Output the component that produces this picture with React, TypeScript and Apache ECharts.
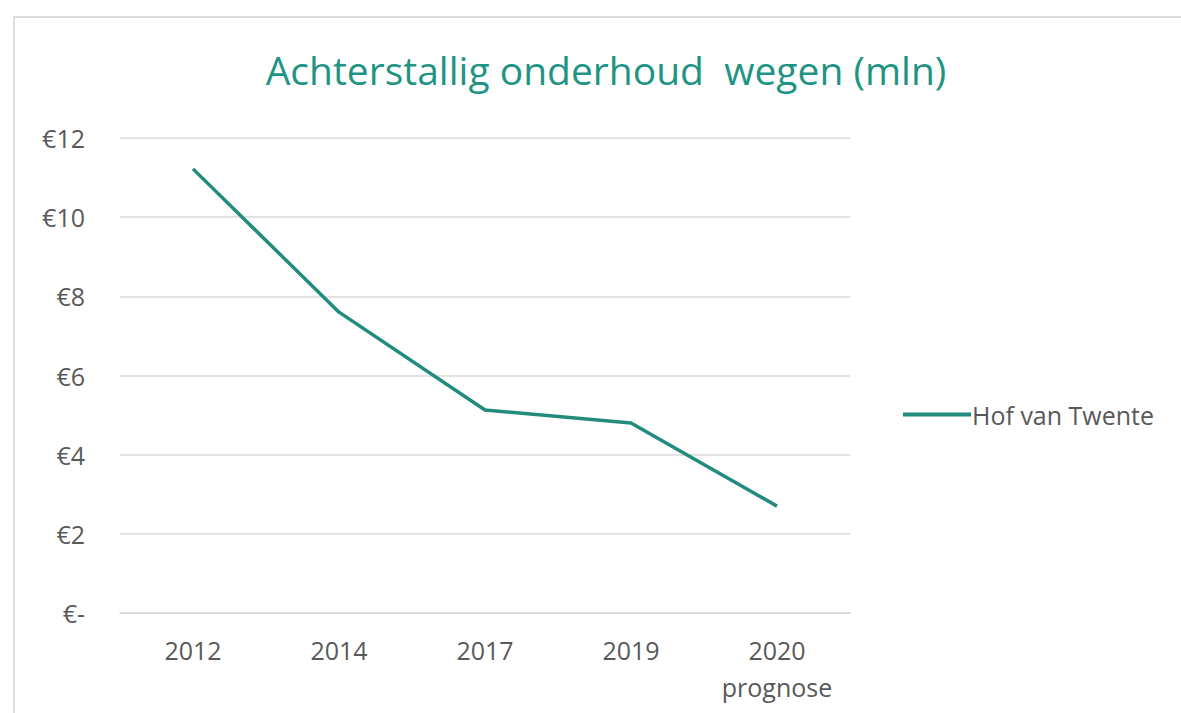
import React, { useEffect, useRef } from "react";
import * as echarts from "echarts";

const categories = ["2012", "2014", "2017", "2019", "2020\nprognose"];
const values = [11.22, 7.6, 5.13, 4.8, 2.7];
const seriesName = "Hof van Twente";
const titleText = "Achterstallig onderhoud  wegen (mln)";

export default function App() {
  const ref = useRef<HTMLDivElement>(null);
  useEffect(() => {
    if (!ref.current) return;
    const chart = echarts.init(ref.current, null, { renderer: "svg" });
    chart.setOption({
      animation: false,
      backgroundColor: "#ffffff",
      title: {
        text: titleText,
        top: 45,
        left: 601,
        textAlign: "center",
        textStyle: {
          color: "#1f9484",
          fontFamily: "Open Sans",
          fontWeight: "normal",
          fontSize: 39,
        },
      },
      graphic: [
        {
          type: "rect",
          shape: { x: 14, y: 17, width: 1300, height: 800 },
          style: { fill: "none", stroke: "#dedede", lineWidth: 2 },
          silent: true,
          z: -1,
        },
      ],
      legend: {
        left: 898,
        top: 397,
        orient: "vertical",
        icon: "rect",
        itemWidth: 68,
        itemHeight: 4,
        itemGap: 0,
        textStyle: { color: "#595959", fontSize: 25, fontFamily: "Open Sans", padding: [0, 0, 0, -4] },
        data: [seriesName],
      },
      grid: { left: 120, right: 331, top: 138, bottom: 100 },
      xAxis: {
        type: "category",
        data: categories,
        boundaryGap: true,
        axisLine: { show: true, lineStyle: { color: "#d9d9d9", width: 1.5 } },
        axisTick: { show: false },
        axisLabel: {
          color: "#595959",
          fontSize: 25,
          fontFamily: "Open Sans",
          margin: 18,
          lineHeight: 37,
        },
      },
      yAxis: {
        type: "value",
        min: 0,
        max: 12,
        interval: 2,
        axisLine: { show: false },
        axisTick: { show: false },
        splitLine: { lineStyle: { color: "#d9d9d9", width: 1.5 } },
        axisLabel: {
          color: "#595959",
          fontSize: 25,
          fontFamily: "Open Sans",
          margin: 35,
          formatter: (v: number) => (v === 0 ? "€-" : "€" + v),
        },
      },
      series: [
        {
          name: seriesName,
          type: "line",
          data: values,
          symbol: "none",
          lineStyle: { color: "#218c7d", width: 3.5 },
          itemStyle: { color: "#218c7d" },
        },
      ],
    });
    return () => chart.dispose();
  }, []);
  return (
    <div
      ref={ref}
      style={{ position: "fixed", left: 0, top: 0, width: 1181, height: 713, background: "#fff" }}
    />
  );
}
